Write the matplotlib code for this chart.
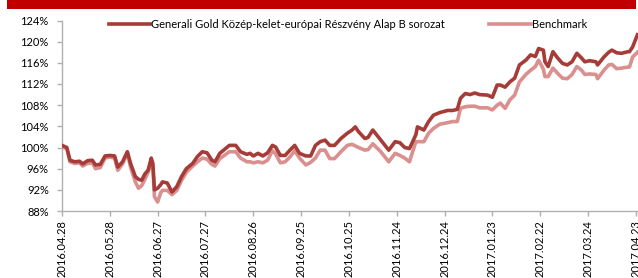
import matplotlib
matplotlib.use("Agg")
import matplotlib.pyplot as plt
from matplotlib.patches import Rectangle
import pandas as pd

plt.rcParams['font.family'] = ['Lato', 'DejaVu Sans']

dates = ["2016-04-28", "2016-05-01", "2016-05-03", "2016-05-06", "2016-05-09", "2016-05-11", "2016-05-14",
         "2016-05-17", "2016-05-19", "2016-05-22", "2016-05-25", "2016-05-28", "2016-05-31", "2016-06-02",
         "2016-06-05", "2016-06-08", "2016-06-10", "2016-06-13", "2016-06-15", "2016-06-17", "2016-06-19",
         "2016-06-21", "2016-06-23", "2016-06-24", "2016-06-25", "2016-06-27", "2016-06-29", "2016-06-30",
         "2016-07-03", "2016-07-06", "2016-07-09", "2016-07-12", "2016-07-15", "2016-07-19", "2016-07-22",
         "2016-07-25", "2016-07-28", "2016-07-31", "2016-08-02", "2016-08-05", "2016-08-11", "2016-08-15",
         "2016-08-18", "2016-08-22", "2016-08-24", "2016-08-26", "2016-08-29", "2016-09-01", "2016-09-04",
         "2016-09-07", "2016-09-09", "2016-09-12", "2016-09-15", "2016-09-18", "2016-09-21", "2016-09-24",
         "2016-09-28", "2016-10-01", "2016-10-04", "2016-10-07", "2016-10-10", "2016-10-13", "2016-10-16",
         "2016-10-20", "2016-10-24", "2016-10-27", "2016-10-29", "2016-10-31", "2016-11-04", "2016-11-06",
         "2016-11-09", "2016-11-14", "2016-11-19", "2016-11-23", "2016-11-26", "2016-11-29", "2016-12-02",
         "2016-12-06", "2016-12-07", "2016-12-11", "2016-12-14", "2016-12-17", "2016-12-21", "2016-12-26",
         "2016-12-29", "2017-01-01", "2017-01-03", "2017-01-06", "2017-01-09", "2017-01-12", "2017-01-15",
         "2017-01-20", "2017-01-23", "2017-01-26", "2017-01-28", "2017-01-31", "2017-02-03", "2017-02-06",
         "2017-02-09", "2017-02-13", "2017-02-16", "2017-02-19", "2017-02-21", "2017-02-24", "2017-02-25",
         "2017-02-27", "2017-03-02", "2017-03-05", "2017-03-08", "2017-03-11", "2017-03-14", "2017-03-17",
         "2017-03-20", "2017-03-22", "2017-03-25", "2017-03-29", "2017-03-30", "2017-04-03", "2017-04-06",
         "2017-04-08", "2017-04-11", "2017-04-14", "2017-04-18", "2017-04-19", "2017-04-21", "2017-04-24"]

fund = [100.4, 100.0, 97.6, 97.3, 97.4, 96.9, 97.5,
        97.6, 96.7, 96.8, 98.4, 98.5, 98.4, 96.3,
        97.3, 99.2, 97.0, 94.5, 94.0, 93.8, 95.0,
        95.7, 98.0, 97.0, 92.0, 92.3, 93.0, 93.5,
        93.3, 91.6, 92.6, 94.5, 96.0, 97.0, 98.3,
        99.2, 99.0, 97.6, 97.3, 98.9, 100.4, 100.4,
        99.2, 98.7, 98.9, 98.4, 98.9, 98.4, 99.0,
        100.4, 100.1, 98.5, 98.5, 99.5, 100.4, 98.9,
        98.4, 98.4, 100.4, 101.1, 101.4, 100.4, 100.4,
        101.7, 102.7, 103.3, 103.9, 103.0, 101.7, 101.9,
        103.3, 101.4, 99.5, 101.1, 100.9, 100.0, 99.8,
        102.4, 103.9, 103.3, 104.9, 106.1, 106.6, 107.0,
        107.0, 107.2, 109.3, 110.2, 110.0, 110.3, 110.0,
        109.9, 109.5, 111.8, 111.8, 111.4, 112.4, 113.1,
        115.6, 116.5, 117.5, 117.2, 118.7, 118.4, 116.2,
        115.3, 118.1, 116.9, 115.9, 115.6, 116.2, 117.8,
        116.9, 116.2, 116.4, 116.2, 115.6, 117.1, 118.0,
        118.4, 117.9, 117.8, 118.1, 118.1, 119.0, 121.3]

benchmark = [100.1, 99.8, 97.3, 97.0, 97.1, 96.5, 97.0,
             97.1, 96.0, 96.2, 98.0, 98.2, 98.0, 95.7,
             96.9, 99.0, 96.3, 93.5, 92.3, 92.8, 94.0,
             95.3, 97.3, 96.5, 90.7, 89.7, 91.5, 91.9,
             91.9, 91.1, 91.9, 93.8, 95.3, 96.5, 97.3,
             98.0, 97.8, 96.8, 96.5, 97.9, 99.2, 99.2,
             98.0, 97.3, 97.3, 97.1, 97.3, 97.1, 97.6,
             99.4, 98.8, 97.1, 97.3, 98.2, 99.4, 98.0,
             96.7, 97.2, 98.0, 99.5, 99.5, 97.9, 97.9,
             99.2, 100.4, 100.6, 100.3, 100.0, 99.5, 99.6,
             100.7, 99.2, 97.3, 98.9, 98.5, 98.0, 97.3,
             101.1, 101.1, 101.1, 102.7, 103.6, 104.4, 104.7,
             104.9, 104.9, 107.4, 107.7, 107.8, 107.8, 107.5,
             107.5, 107.1, 108.0, 108.4, 107.4, 109.0, 109.9,
             112.4, 113.8, 114.6, 115.3, 116.5, 114.8, 113.4,
             113.4, 115.0, 114.0, 113.1, 113.0, 113.8, 115.3,
             114.6, 113.8, 113.9, 113.8, 113.0, 114.6, 115.6,
             115.7, 114.9, 115.0, 115.2, 115.2, 117.1, 118.0]

series_names = ["Generali Gold Közép-kelet-európai Részvény Alap B sorozat", "Benchmark"]
tick_start = "2016-04-28"
tick_step_days = 30
n_ticks = 13
y_ticks = [88, 92, 96, 100, 104, 108, 112, 116, 120, 124]

W, H = 638, 278
fig = plt.figure(figsize=(W / 100, H / 100), dpi=100)
fig.patch.set_facecolor('white')

# red header band
fig.patches.append(Rectangle((7 / W, 1 - 8.5 / H), (636 - 7) / W, 8.5 / H,
                             transform=fig.transFigure, facecolor='#C00000',
                             edgecolor='none', zorder=0))

ax = fig.add_axes([62 / W, 67 / H, 577 / W, (211 - 20.5) / H])

x = pd.to_datetime(dates)
c_fund = '#A63C38'
c_bench = '#D9908F'
l2, = ax.plot(x, benchmark, color=c_bench, lw=2.6, solid_joinstyle='round', zorder=2)
l1, = ax.plot(x, fund, color=c_fund, lw=2.6, solid_joinstyle='round', zorder=3)

start = pd.Timestamp(tick_start)
ticks = [start + pd.Timedelta(days=tick_step_days * i) for i in range(n_ticks)]
ax.set_xticks(ticks)
ax.set_xticklabels([t.strftime('%Y.%m.%d') for t in ticks], rotation=90, fontsize=8, color='#000000')
ax.set_xlim(start, start + pd.Timedelta(days=362))

ax.set_ylim(88, 124)
ax.set_yticks(y_ticks)
ax.set_yticklabels([f"{v}%" for v in y_ticks], fontsize=8)

for s in ['top', 'right']:
    ax.spines[s].set_visible(False)
for s in ['left', 'bottom']:
    ax.spines[s].set_color('#B0B0B0')
    ax.spines[s].set_linewidth(1.0)
ax.tick_params(axis='both', colors='#B0B0B0', labelcolor='#000000', length=3.5, width=1.0)
ax.tick_params(axis='y', pad=6)
ax.tick_params(axis='x', pad=3)

fig.legend([l1, l2], series_names, loc='center', bbox_to_anchor=(348 / W, 1 - 24 / H),
           ncol=2, frameon=False, fontsize=8, handlelength=3.7, handletextpad=0.1,
           columnspacing=4.0, borderaxespad=0)

fig.savefig('out.png', dpi=100)
